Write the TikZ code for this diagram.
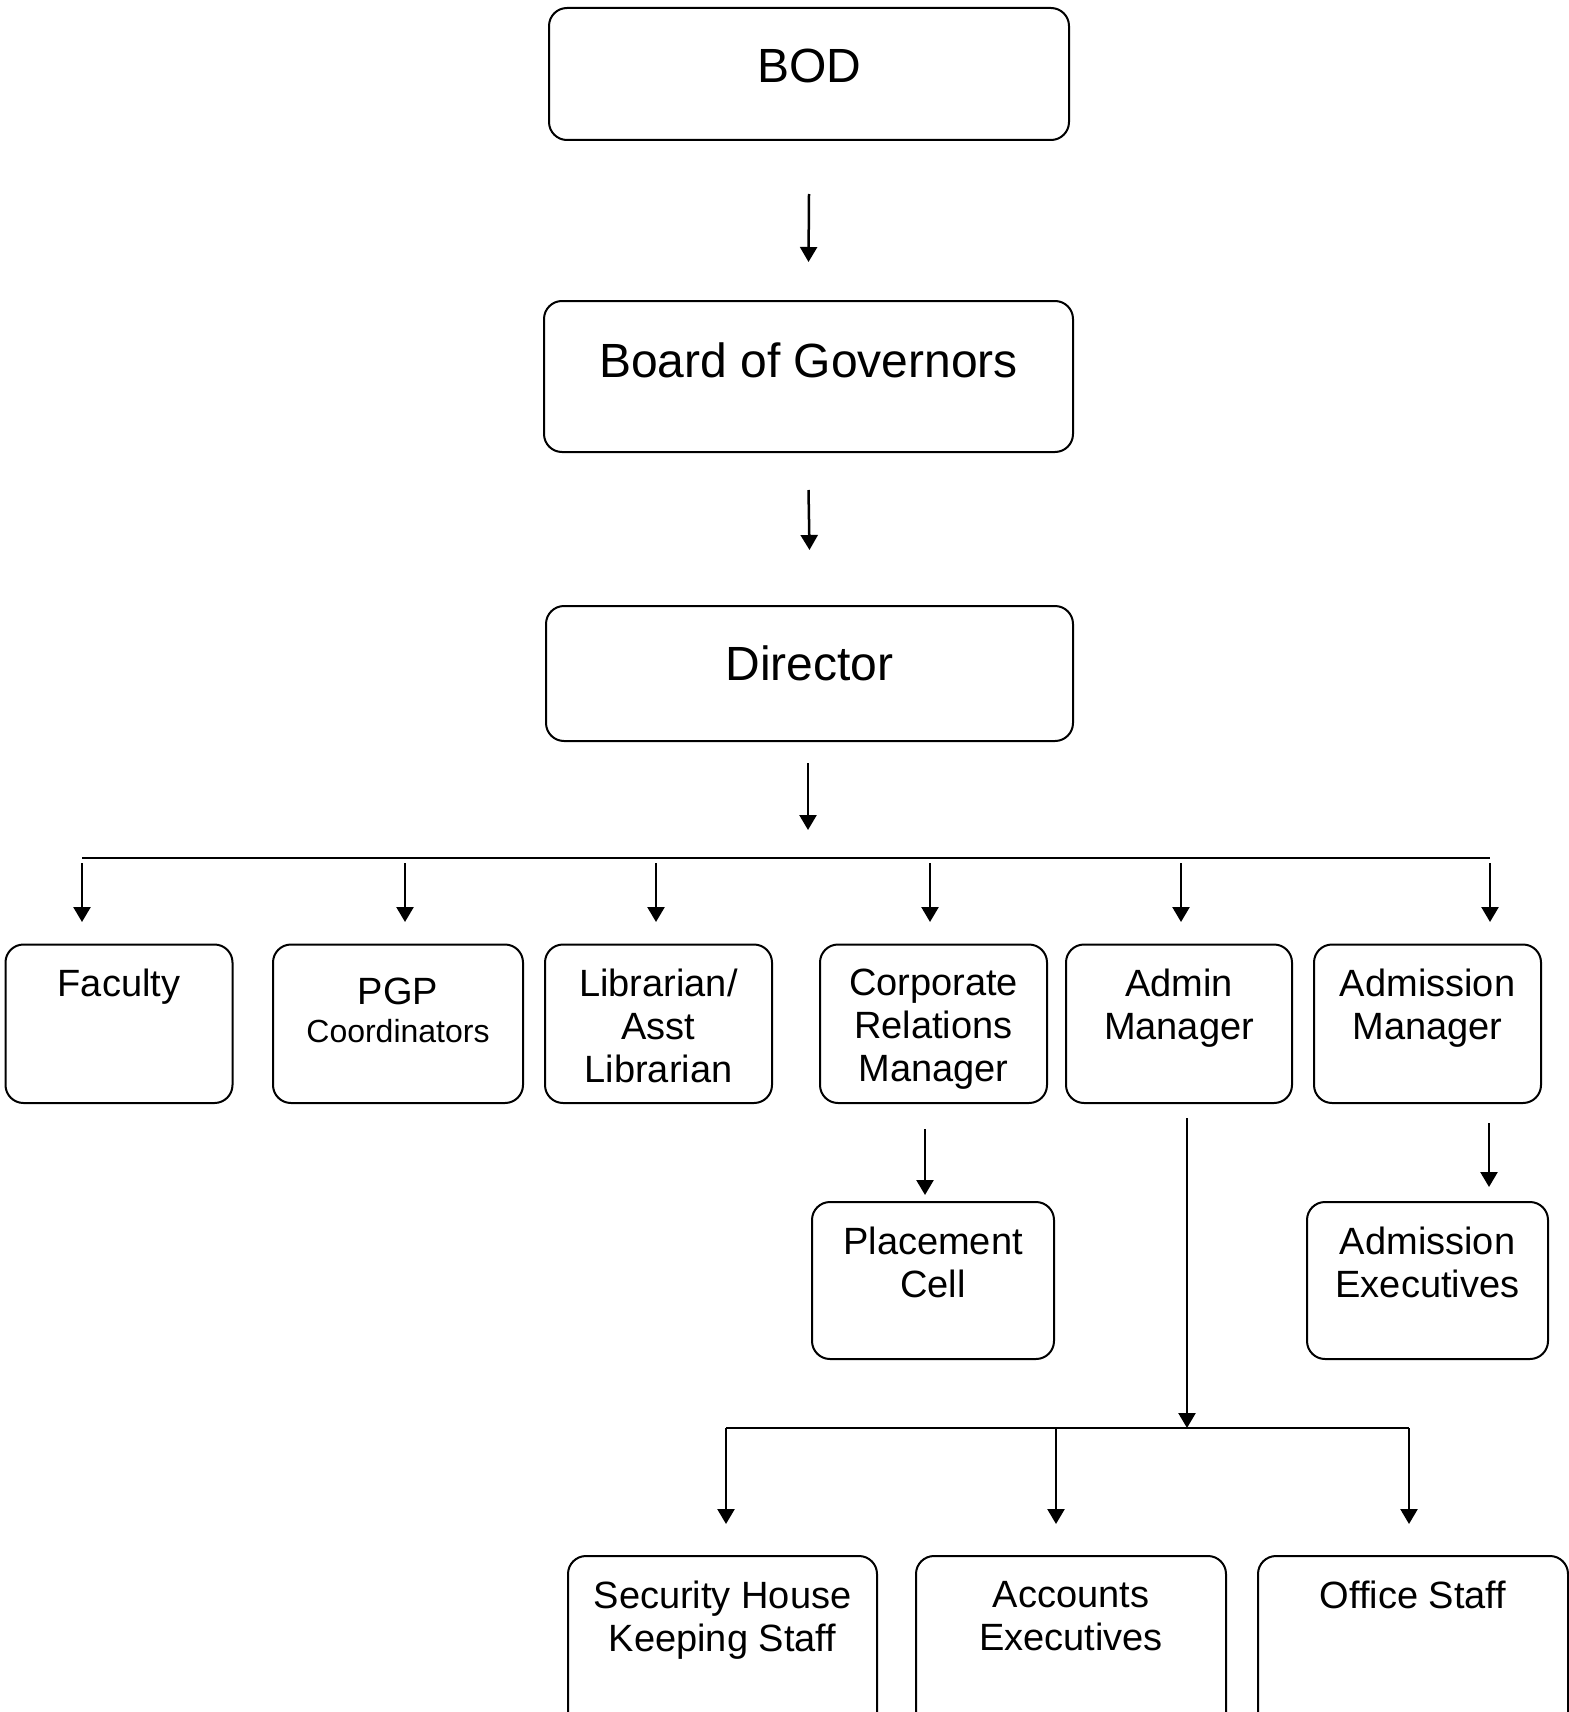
\documentclass[tikz,border=0pt]{standalone}
\usepackage{fontspec}
\setmainfont{Liberation Sans}
\usetikzlibrary{arrows.meta,positioning}
\begin{document}
\begin{tikzpicture}[x=0.5pt,y=-0.5pt,line width=1.25pt,
    >={Triangle[width=8.5pt,length=7.5pt]},
    box/.style={draw,line width=1pt,rounded corners=9pt,inner sep=0pt},
    big/.style={align=center,inner sep=0pt,font=\fontsize{24}{27}\selectfont},
    txt/.style={align=center,inner sep=0pt,font=\fontsize{19}{21.5}\selectfont}]
\useasboundingbox (0,0) rectangle (1568,1712);

% top of the chart
\node[box,minimum width=260pt,minimum height=66pt] (bod) at (809,74) {};
\node[big,below=20.5pt of bod.north] (bod-t) {BOD};
\node[box,minimum width=264.5pt,minimum height=75.5pt] (bog) at (808.5,376.5) {};
\node[big,below=20.5pt of bog.north] (bog-t) {Board of Governors};
\node[box,minimum width=263.5pt,minimum height=67.5pt] (dir) at (809.5,673.5) {};
\node[big,below=19.5pt of dir.north] (dir-t) {Director};

\draw[->] ([yshift=-26.5pt]bod.south) -- ([yshift=19pt]bog.north);
\draw[->] ([yshift=-18.5pt]bog.south) -- ([yshift=27.5pt]dir.north);

% heads under the director
\node[box,minimum width=113.5pt,minimum height=79.25pt] (fac) at (119,1023.75) {};
\node[txt,below=12pt of fac.north] (fac-t) {Faculty};
\node[box,minimum width=125pt,minimum height=79.25pt] (pgp) at (398,1023.75) {};
\node[txt,below=16.5pt of pgp.north] (pgp-t) {PGP\\[-2.5pt]{\fontsize{16}{18}\selectfont Coordinators}};
\node[box,minimum width=113.5pt,minimum height=79.25pt] (lib) at (658.5,1023.75) {};
\node[txt,below=12pt of lib.north] (lib-t) {Librarian/\\Asst\\Librarian};
\node[box,minimum width=113.5pt,minimum height=79.25pt] (crm) at (933.5,1023.75) {};
\node[txt,below=12pt of crm.north] (crm-t) {Corporate\\Relations\\Manager};
\node[box,minimum width=113pt,minimum height=79.25pt] (adm) at (1179,1023.75) {};
\node[txt,below=12pt of adm.north] (adm-t) {Admin\\Manager};
\node[box,minimum width=113.5pt,minimum height=79.25pt] (amg) at (1427.5,1023.75) {};
\node[txt,below=12pt of amg.north] (amg-t) {Admission\\Manager};

\coordinate (bus-l) at (82,858);
\coordinate (bus-r) at (1490,858);
\draw[->,shorten <=10.5pt,shorten >=14pt] (808,0 |- dir.south) -- (808,0 |- bus-l);
\draw (bus-l) -- (bus-r);
\foreach \x/\n in {82/fac,405/pgp,656/lib,930/crm,1181/adm,1490/amg}
  \draw[->,shorten <=2.5pt,shorten >=10.75pt] (\x,0 |- bus-l) -- (\x,0 |- \n.north);

% second level
\node[box,minimum width=121pt,minimum height=78.5pt] (plc) at (933,1280.5) {};
\node[txt,below=12.5pt of plc.north] (plc-t) {Placement\\Cell};
\node[box,minimum width=120.5pt,minimum height=78.5pt] (aex) at (1427.5,1280.5) {};
\node[txt,below=12.5pt of aex.north] (aex-t) {Admission\\Executives};

\draw[->,shorten <=12.5pt,shorten >=3pt] (925,0 |- crm.south) -- (925,0 |- plc.north);
\draw[->,shorten <=9.5pt,shorten >=7pt] (1489,0 |- amg.south) -- (1489,0 |- aex.north);

% staff under the admin manager
\node[box,minimum width=154.5pt,minimum height=102pt] (sec) at (722.5,1658) {};
\node[txt,below=12.5pt of sec.north] (sec-t) {Security House\\Keeping Staff};
\node[box,minimum width=155pt,minimum height=102pt] (acc) at (1071,1658) {};
\node[txt,below=12.5pt of acc.north] (acc-t) {Accounts\\Executives};
\node[box,minimum width=155pt,minimum height=102pt] (off) at (1413,1658) {};
\node[txt,below=12.5pt of off.north] (off-t) {Office Staff};

\coordinate (bus2-l) at (726,1428);
\coordinate (bus2-r) at (1409,1428);
\draw[->,shorten <=7pt] (1187,0 |- adm.south) -- (1187,0 |- bus2-l);
\draw (bus2-l) -- (bus2-r);
\foreach \x/\n in {726/sec,1056/acc,1409/off}
  \draw[->,shorten >=15.5pt] (\x,0 |- bus2-l) -- (\x,0 |- \n.north);
\end{tikzpicture}
\end{document}
